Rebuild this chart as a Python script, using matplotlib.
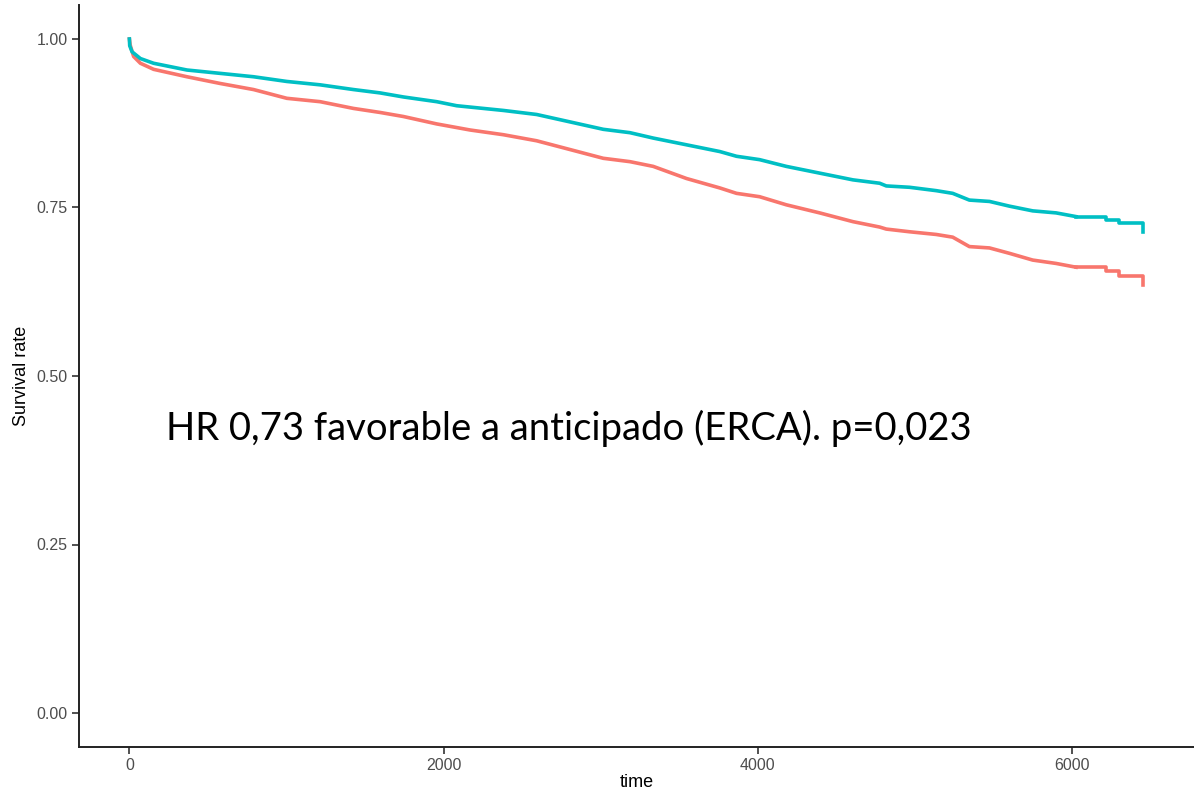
import numpy as np
import matplotlib
matplotlib.use("Agg")
import matplotlib.pyplot as plt

# Kaplan-Meier curves (time in days, survival rate)
teal_time = [0, 2, 17, 70, 154, 366, 578, 790, 1002, 1214, 1426, 1596, 1744, 1956,
             2083, 2380, 2592, 2804, 3016, 3186, 3334, 3546, 3758, 3864, 4011,
             4181, 4393, 4605, 4775, 4817, 4965, 5135, 5240, 5346, 5474, 5601,
             5749, 5898, 6025]
teal_surv = [1.000, 0.990, 0.981, 0.971, 0.964, 0.954, 0.949, 0.944, 0.937, 0.932,
             0.925, 0.920, 0.914, 0.907, 0.901, 0.894, 0.888, 0.877, 0.866, 0.861,
             0.853, 0.843, 0.833, 0.826, 0.821, 0.811, 0.801, 0.791, 0.786, 0.782,
             0.780, 0.775, 0.771, 0.761, 0.759, 0.752, 0.745, 0.742, 0.7365]
# tail, where the single steps are visible
teal_tail_time = [6025, 6216, 6300, 6453]
teal_tail_surv = [0.7365, 0.7316, 0.7267, 0.7142]

salmon_time = [0, 5, 27, 70, 154, 366, 578, 790, 1002, 1214, 1426, 1596, 1744, 1956,
               2168, 2380, 2592, 2804, 3016, 3186, 3334, 3546, 3758, 3864, 4011,
               4181, 4393, 4605, 4775, 4817, 4965, 5135, 5240, 5346, 5474, 5601,
               5749, 5898, 6025]
salmon_surv = [1.000, 0.991, 0.974, 0.964, 0.955, 0.944, 0.934, 0.925, 0.912, 0.907,
               0.897, 0.891, 0.885, 0.874, 0.865, 0.858, 0.849, 0.836, 0.823, 0.818,
               0.811, 0.793, 0.779, 0.771, 0.766, 0.754, 0.742, 0.729, 0.721, 0.718,
               0.714, 0.710, 0.706, 0.692, 0.690, 0.682, 0.672, 0.667, 0.6614]
salmon_tail_time = [6025, 6216, 6300, 6453]
salmon_tail_surv = [0.6614, 0.6564, 0.6485, 0.6352]

x_ticks = [0, 2000, 4000, 6000]
y_ticks = [0.00, 0.25, 0.50, 0.75, 1.00]
note = "HR 0,73 favorable a anticipado (ERCA). p=0,023"

TEAL = "#00BFC4"
SALMON = "#F8766D"
LW = 2.6

fig = plt.figure(figsize=(11.94, 7.94), dpi=100)
ax = fig.add_axes([78.7/1194, 1 - 746.7/794, 1 - 78.7/1194, (746.7 - 5.3)/794])

ax.plot(salmon_time, salmon_surv, color=SALMON, lw=LW)
ax.step(salmon_tail_time, salmon_tail_surv, where="post", color=SALMON, lw=LW)
ax.plot(teal_time, teal_surv, color=TEAL, lw=LW)
ax.step(teal_tail_time, teal_tail_surv, where="post", color=TEAL, lw=LW)

# ggplot style 5% expansion
t_max = 6453
ax.set_xlim(-0.05*t_max, t_max*1.05)
ax.set_ylim(-0.05, 1.05)
ax.set_xticks(x_ticks)
ax.set_xticklabels([str(t) for t in x_ticks])
ax.set_yticks(y_ticks)
ax.set_yticklabels(["%.2f" % v for v in y_ticks])

for s in ["top", "right"]:
    ax.spines[s].set_visible(False)
for s in ["left", "bottom"]:
    ax.spines[s].set_color("#222222")
    ax.spines[s].set_linewidth(1.4)
ax.tick_params(colors="#333333", length=5, width=1.2, labelsize=11.5,
               labelcolor="#4D4D4D", pad=3)
for lab in ax.get_xticklabels() + ax.get_yticklabels():
    lab.set_family("Liberation Sans")

ax.set_xlabel("time", fontsize=13, family="Liberation Sans", labelpad=1)
ax.set_ylabel("Survival rate", fontsize=13, family="Liberation Sans", labelpad=5)

# big annotation, fitted to the width it has in the picture
txt = fig.text(166/1194, 1 - 440/794, note, fontsize=30, family="Lato",
               color="black", ha="left", va="baseline")
fig.canvas.draw()
w = txt.get_window_extent(renderer=fig.canvas.get_renderer()).width
txt.set_fontsize(30*(970 - 166)/w)

fig.savefig("out.png", dpi=100)
